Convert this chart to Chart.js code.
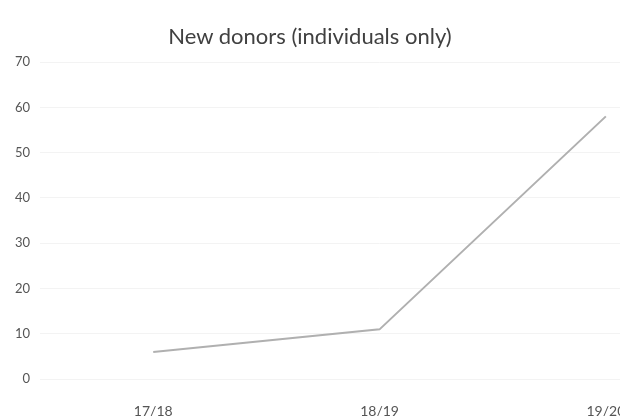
<!DOCTYPE html>
<html>
<head>
<meta charset="utf-8">
<script src="https://cdn.jsdelivr.net/npm/chart.js@4"></script>
<style>
  html, body { margin: 0; padding: 0; background: #fff; overflow: hidden; }
  #wrap { position: relative; width: 620px; height: 416px; overflow: hidden; }
  #titulo { position: absolute; top: 22px; left: 0; width: 620px; text-align: center;
            font: 22px Lato, sans-serif; color: #404040; }
  #grafica { position: absolute; left: 0; top: 0; }
</style>
</head>
<body>
<div id="wrap">
  <canvas id="grafica" width="740" height="438"></canvas>
  <div id="titulo">New donors (individuals only)</div>
</div>
<script>
const periodos = ['17/18', '18/19', '19/20'];
const nuevosDonantes = [6, 11, 58];
const ticksY = [0, 10, 20, 30, 40, 50, 60, 70];

const ctx = document.getElementById('grafica').getContext('2d');
new Chart(ctx, {
    type: 'line',
    data: {
        labels: periodos,
        datasets: [{
            label: 'New donors',
            data: nuevosDonantes,
            borderColor: '#b0b0b0',
            borderWidth: 2,
            pointRadius: 0,
            tension: 0
        }]
    },
    options: {
        responsive: false,
        animation: false,
        layout: { padding: { top: 62, left: 5, right: 21, bottom: 2 } },
        scales: {
            x: {
                offset: true,
                grid: { display: false },
                border: { display: false },
                ticks: { color: '#555', padding: 16, maxRotation: 0, autoSkip: false,
                         font: { family: 'Lato', size: 14 } }
            },
            y: {
                min: 0,
                max: 70,
                afterBuildTicks: (axis) => { axis.ticks = ticksY.map(v => ({ value: v })); },
                grid: { color: '#f3f3f3', drawTicks: false },
                border: { display: false },
                ticks: { color: '#555', padding: 10, font: { family: 'Lato', size: 13 } }
            }
        },
        plugins: {
            legend: { display: false },
            tooltip: { enabled: false }
        }
    }
});
</script>
</body>
</html>
